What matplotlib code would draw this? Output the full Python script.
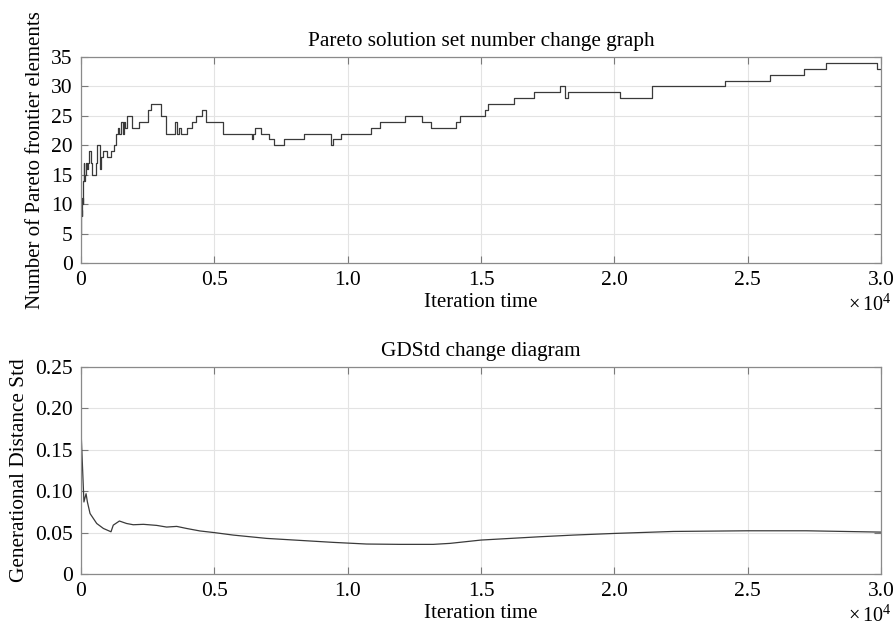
import numpy as np
import matplotlib.pyplot as plt

plt.rcParams['font.family'] = ['Liberation Serif', 'DejaVu Serif']
plt.rcParams['mathtext.fontset'] = 'custom'
plt.rcParams['mathtext.rm'] = 'Liberation Serif'

# Pareto front size: iteration at which the count changes, and the new count
pareto_iter = [0, 15, 30, 50, 70, 90, 110, 130, 150, 190, 230, 270, 300,
               380, 420, 560, 600, 700, 760, 830, 960, 1130, 1240, 1310,
               1370, 1430, 1500, 1560, 1600, 1640, 1725, 1925, 2175, 2515,
               2620, 2990, 3200, 3525, 3590, 3675, 3750, 3960, 4150, 4310,
               4525, 4690, 5340, 6420, 6460, 6525, 6740, 7040, 7240, 7610,
               8375, 9390, 9460, 9740, 10875, 11200, 12150, 12800, 13140,
               14060, 14220, 15135, 15260, 16250, 16970, 17950, 18150, 18280,
               20220, 21430, 24140, 25850, 27110, 27950, 29860, 30000]
pareto_count = [5, 9, 8, 11, 10, 14, 17, 14, 15, 17, 16, 17, 19,
                17, 15, 17, 20, 16, 18, 19, 18, 19, 20, 22,
                23, 22, 24, 22, 24, 23, 25, 23, 24, 26,
                27, 25, 22, 24, 22, 23, 22, 23, 24, 25,
                26, 24, 22, 21, 22, 23, 22, 21, 20, 21,
                22, 20, 21, 22, 23, 24, 25, 24, 23,
                24, 25, 26, 27, 28, 29, 30, 28, 29,
                28, 30, 31, 32, 33, 34, 33, 33]

# Generational distance std over the run
gd_iter = [0, 110, 190, 240, 340, 590, 840, 1125, 1210, 1440, 1710, 1960,
           2340, 2840, 3210, 3590, 3960, 4460, 5000, 5710, 6960, 8210, 9460,
           10710, 11960, 13210, 13840, 15000, 17210, 18460, 20000, 22210,
           25000, 27210, 30000]
gd_std = [0.174, 0.087, 0.097, 0.087, 0.073, 0.061, 0.055, 0.051, 0.059,
          0.064, 0.061, 0.0595, 0.060, 0.0587, 0.0567, 0.0575, 0.055, 0.052,
          0.050, 0.047, 0.043, 0.0406, 0.0382, 0.0362, 0.0358, 0.0358, 0.037,
          0.041, 0.045, 0.047, 0.049, 0.0514, 0.0522, 0.0522, 0.0506]

x_ticks = [0, 5000, 10000, 15000, 20000, 25000, 30000]
x_tick_labels = ['0', '0.5', '1.0', '1.5', '2.0', '2.5', '3.0']


def style_axes(ax):
    ax.set_xlim(0, 30000)
    ax.set_xticks(x_ticks)
    ax.set_xticklabels(x_tick_labels)
    ax.grid(True, color='#e3e3e3', linewidth=0.8)
    ax.set_axisbelow(True)
    ax.tick_params(direction='in', top=True, right=True, length=5,
                   width=0.8, color='#7a7a7a', labelsize=15.5, pad=6)
    for s in ax.spines.values():
        s.set_color('#8a8a8a')
        s.set_linewidth(0.9)
    ax.set_xlabel('Iteration time', fontsize=15, labelpad=2)
    ax.text(1.014, -0.15, r'$\times\,10^{4}$', transform=ax.transAxes,
            ha='right', va='top', fontsize=14.5)


fig = plt.figure(figsize=(8.95, 6.33), dpi=100)

ax1 = fig.add_axes([0.0905, 0.5845, 0.8939, 0.3254])
ax1.step(pareto_iter, pareto_count, where='post', color='#3a3a3a', linewidth=0.9)
ax1.set_ylim(0, 35)
ax1.set_yticks(range(0, 36, 5))
style_axes(ax1)
ax1.set_title('Pareto solution set number change graph', fontsize=15.3, pad=8)
ax1.set_ylabel('Number of Pareto frontier elements', fontsize=15, labelpad=4)

ax2 = fig.add_axes([0.0905, 0.0932, 0.8939, 0.327])
ax2.plot(gd_iter, gd_std, color='#3a3a3a', linewidth=0.9)
ax2.set_ylim(0, 0.25)
ax2.set_yticks([0, 0.05, 0.10, 0.15, 0.20, 0.25])
ax2.set_yticklabels(['0', '0.05', '0.10', '0.15', '0.20', '0.25'])
style_axes(ax2)
ax2.set_title('GDStd change diagram', fontsize=15.3, pad=8)
ax2.set_ylabel('Generational Distance Std', fontsize=15.3, labelpad=4)

fig.savefig('out.png', dpi=100)
